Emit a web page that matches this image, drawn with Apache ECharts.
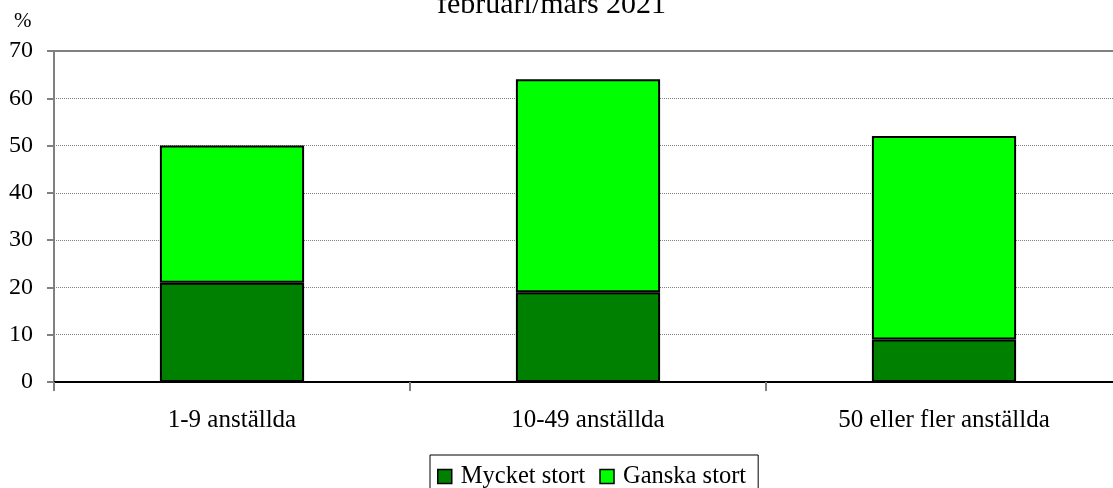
<!DOCTYPE html>
<html>
<head>
<meta charset="utf-8">
<script src="https://cdn.jsdelivr.net/npm/echarts@6/dist/echarts.min.js"></script>
<style>
html,body{margin:0;padding:0;background:#fff;}
#chart{width:1113px;height:488px;}
</style>
</head>
<body>
<div id="chart"></div>
<script>
var categories = ['1-9 anställda', '10-49 anställda', '50 eller fler anställda'];
var seriesNames = ['Mycket stort', 'Ganska stort'];
var mycketStort = [21, 19, 9];
var ganskaStort = [29, 45, 43];
var yTicks = [0, 10, 20, 30, 40, 50, 60, 70];
var titleText = 'februari/mars 2021';
var unitLabel = '%';

var FONT = '"Liberation Serif", "Times New Roman", serif';
var chart = echarts.init(document.getElementById('chart'), null, {renderer: 'canvas'});
chart.setOption({
  animation: false,
  backgroundColor: '#fff',
  title: {
    text: titleText,
    left: 432,
    top: -15,
    textStyle: {fontFamily: FONT, fontSize: 30, fontWeight: 'normal', color: '#000'}
  },
  graphic: [{
    type: 'text', left: 14, top: 11,
    style: {text: unitLabel, font: '21px ' + FONT, fill: '#000'}
  }],
  legend: {
    data: seriesNames,
    left: 430, top: 455,
    orient: 'horizontal',
    icon: 'rect',
    itemWidth: 14, itemHeight: 14,
    itemGap: 14,
    padding: [9, 12, 6, 7],
    borderColor: '#000', borderWidth: 1,
    textStyle: {fontFamily: FONT, fontSize: 24.5, color: '#000', padding: [0, 0, 0, 4]},
    itemStyle: {borderColor: '#000', borderWidth: 1.5}
  },
  grid: {left: 54, right: -9, top: 51, bottom: 106, outerBoundsMode: 'none', containLabel: false, show: true, borderColor: '#808080', borderWidth: 2, backgroundColor: 'transparent'},
  xAxis: {
    type: 'category',
    data: categories,
    axisLine: {show: true, lineStyle: {color: '#000', width: 2}},
    axisTick: {show: true, alignWithLabel: false, length: 9, lineStyle: {color: '#808080', width: 2}},
    axisLabel: {fontFamily: FONT, fontSize: 25, color: '#000', margin: 26},
    splitLine: {show: false}
  },
  yAxis: {
    type: 'value',
    min: yTicks[0], max: yTicks[yTicks.length - 1], interval: 10,
    axisLine: {show: true, lineStyle: {color: '#808080', width: 2}},
    axisTick: {show: true, length: 7, lineStyle: {color: '#808080', width: 2}},
    axisLabel: {fontFamily: FONT, fontSize: 24, color: '#000', margin: 21},
    splitLine: {show: true, lineStyle: {color: '#808080', type: 'dotted', width: 1}}
  },
  series: [
    {
      name: seriesNames[0], type: 'bar', stack: 'total', barWidth: '40.5%',
      data: mycketStort,
      itemStyle: {color: '#008000', borderColor: '#000', borderWidth: 2}
    },
    {
      name: seriesNames[1], type: 'bar', stack: 'total', barWidth: '40.5%',
      data: ganskaStort,
      itemStyle: {color: '#00FF00', borderColor: '#000', borderWidth: 2}
    }
  ]
});
</script>
</body>
</html>
